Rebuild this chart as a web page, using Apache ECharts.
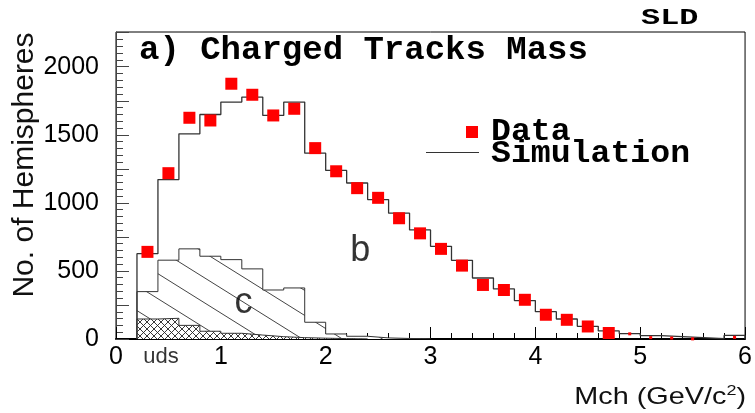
<!DOCTYPE html>
<html><head><meta charset="utf-8">
<script src="https://cdn.jsdelivr.net/npm/echarts@6/dist/echarts.min.js"></script>
<style>html,body{margin:0;padding:0;background:#fff}#c{width:755px;height:413px}</style>
</head><body><div id="c"></div>
<script>
// ---- data ----
const binLeft   = [0.2,0.4,0.6,0.8,1.0,1.2,1.4,1.6,1.8,2.0,2.2,2.4,2.6,2.8,3.0,3.2,3.4,3.6,3.8,4.0,4.2,4.4,4.6,4.8,5.0,5.2,5.4,5.6,5.8];
const binWidth  = 0.2;
const simTotal  = [627,1171,1507,1649,1740,1777,1642,1740,1365,1238,1146,1024,924,801,681,578,448,368,282,201,147,93,59,40,25,18,10,2,26];
const simCharm  = [348,579,662,608,583,515,360,375,123,37,20,8,4,2]; // c + uds (stacked)
const simUds    = [147,152,100,57,42,29,17,10,6,3,1];
const dataX     = [0.3,0.5,0.7,0.9,1.1,1.3,1.5,1.7,1.9,2.1,2.3,2.5,2.7,2.9,3.1,3.3,3.5,3.7,3.9,4.1,4.3,4.5,4.7,4.9,5.1,5.3,5.5,5.9];
const dataY     = [640,1218,1625,1605,1875,1794,1642,1691,1402,1232,1108,1037,887,776,662,539,397,360,288,178,141,92,44,38,10,7,1,12];
const xTickLabels = ['0','1','2','3','4','5','6'];
const yTickLabels = [0,500,1000,1500,2000];
const annotations = [
  {text:'b',   x:2.33, y:647},
  {text:'c',   x:1.215, y:265},
  {text:'uds', x:0.43, y:-132}
];

// ---- helpers ----
function stepData(vals){
  const pts = [[binLeft[0],0]];
  vals.forEach((v,i)=>pts.push([binLeft[i],v]));
  const lastRight = +(binLeft[vals.length-1]+binWidth).toFixed(4);
  pts.push([lastRight, vals[vals.length-1]]);
  pts.push([lastRight, 0]);
  return pts;
}
function diagPattern(){
  const c=document.createElement('canvas'); const w=40,h=25; c.width=w;c.height=h;
  const g=c.getContext('2d'); g.fillStyle='#fff'; g.fillRect(0,0,w,h);
  g.strokeStyle='#444'; g.lineWidth=1;
  for(let k=-1;k<=1;k++){ g.beginPath(); g.moveTo(-w,-h+k*h); g.lineTo(2*w,2*h+k*h); g.stroke(); }
  return c;
}
function crossPattern(){
  const c=document.createElement('canvas'); const s=7; c.width=s;c.height=s;
  const g=c.getContext('2d'); g.fillStyle='#fff'; g.fillRect(0,0,s,s);
  g.strokeStyle='#222'; g.lineWidth=0.9;
  for(let k=-1;k<=1;k++){
    g.beginPath(); g.moveTo(-s,-s+k*s); g.lineTo(2*s,2*s+k*s); g.stroke();
    g.beginPath(); g.moveTo(-s,2*s+k*s); g.lineTo(2*s,-s+k*s); g.stroke();
  }
  return c;
}

const chart = echarts.init(document.getElementById('c'));
const lineCol = '#333';
chart.setOption({
  animation:false,
  backgroundColor:'#fff',
  grid:{left:116,right:7,top:32,bottom:74,show:true,borderColor:'#000',borderWidth:1,backgroundColor:'transparent'},
  xAxis:{
    type:'value',min:0,max:6,interval:1,
    axisLine:{show:true,onZero:false,lineStyle:{color:'#000',width:2}},
    axisTick:{show:true,inside:true,length:12,lineStyle:{color:'#000'}},
    minorTick:{show:true,splitNumber:5,length:6,lineStyle:{color:'#000'}},
    splitLine:{show:false},
    axisLabel:{fontFamily:'Liberation Sans',fontSize:25,color:'#000',margin:6,
      formatter:(v)=>{const i=Math.round(v);return xTickLabels[i]!==undefined?xTickLabels[i]:'';}}
  },
  yAxis:{
    type:'value',min:0,max:2255,interval:250,
    axisLine:{show:true,lineStyle:{color:'#444',width:1}},
    axisTick:{show:true,inside:true,length:13,lineStyle:{color:'#444'}},
    minorTick:{show:true,splitNumber:5,length:7,lineStyle:{color:'#444'}},
    splitLine:{show:false},
    axisLabel:{fontFamily:'Liberation Sans',fontSize:25,color:'#000',margin:17,
      formatter:(v)=>yTickLabels.indexOf(v)>=0?String(v):''}
  },
  series:[
    {type:'line',name:'c',step:'end',data:stepData(simCharm),symbol:'none',z:2,
     lineStyle:{color:lineCol,width:1},areaStyle:{color:{image:diagPattern(),repeat:'repeat'},opacity:1}},
    {type:'line',name:'uds',step:'end',data:stepData(simUds),symbol:'none',z:3,
     lineStyle:{color:lineCol,width:1},areaStyle:{color:{image:crossPattern(),repeat:'repeat'},opacity:1}},
    {type:'line',name:'Simulation',step:'end',data:stepData(simTotal),symbol:'none',z:4,
     lineStyle:{color:lineCol,width:1.3}},
    {type:'scatter',name:'Data',data:dataX.map((x,i)=>[x,dataY[i]]),symbol:'rect',z:5,
     symbolSize:(v)=>v[0]>4.8?3:12,itemStyle:{color:'#ff0000',opacity:1}},
    {type:'scatter',name:'labels',data:annotations.map(a=>[a.x,a.y,a.text]),symbolSize:0,clip:false,z:6,silent:true,
     label:{show:true,position:'inside',color:'#000',fontFamily:'Liberation Sans',fontSize:36,
       formatter:(p)=>p.value[2]==='uds'?'{s|uds}':p.value[2],
       rich:{s:{fontSize:22,fontFamily:'Liberation Sans',color:'#000'}}},
     itemStyle:{color:'transparent'}}
  ],
  graphic:[
    {type:'text',left:139,top:33,style:{text:'a) Charged Tracks Mass',font:'bold 34px "Liberation Mono"',fill:'#000'}},
    {type:'text',x:641,y:7,scaleX:1.45,style:{text:'SLD',font:'bold 22px "Liberation Mono"',fill:'#000'}},
    {type:'rect',shape:{x:466,y:126,width:12,height:12},style:{fill:'#ff0000'}},
    {type:'text',x:491,y:117,scaleX:1.07,style:{text:'Data',font:'bold 31px "Liberation Mono"',fill:'#000'}},
    {type:'line',shape:{x1:426,y1:152.5,x2:479,y2:152.5},style:{stroke:'#333',lineWidth:1.2}},
    {type:'text',x:491,y:139,scaleX:1.07,style:{text:'Simulation',font:'bold 31px "Liberation Mono"',fill:'#000'}},
    {type:'text',x:25,y:165,rotation:Math.PI/2,style:{text:'No. of Hemispheres',font:'30px "Liberation Sans"',fill:'#111',align:'center',verticalAlign:'middle'}},
    {type:'text',x:746,y:397,scaleX:1.2,style:{text:'Mch (GeV/c{s|2})',font:'24px "Liberation Sans"',fill:'#111',align:'right',verticalAlign:'middle',
      rich:{s:{fontSize:15,fontFamily:'Liberation Sans',padding:[0,0,13,0]}}}}
  ]
});
</script>
</body></html>
